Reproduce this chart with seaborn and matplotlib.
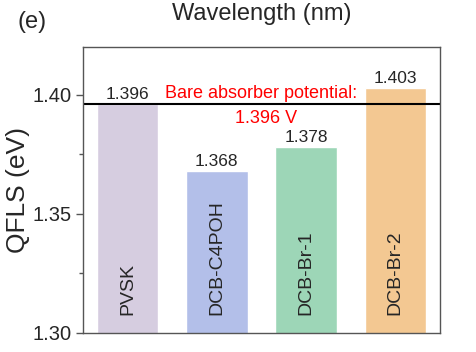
import matplotlib
matplotlib.use('Agg')
import matplotlib.pyplot as plt
import seaborn as sns
import pandas as pd
from matplotlib.ticker import MultipleLocator

samples = ['PVSK', 'DCB-C4POH', 'DCB-Br-1', 'DCB-Br-2']
qfls = [1.396, 1.368, 1.378, 1.403]
colors = ['#d6cde0', '#b3bfe9', '#9dd6b7', '#f3c892']
bare_potential = 1.396

df = pd.DataFrame({'sample': samples, 'qfls': qfls})

sns.set_style('ticks')
plt.rcParams['font.family'] = ['Liberation Sans', 'DejaVu Sans']

fig = plt.figure(figsize=(4.77, 3.52), dpi=100)
ax = fig.add_axes([83 / 477, 1 - 333 / 352, 357 / 477, 286 / 352])

sns.barplot(data=df, x='sample', y='qfls', hue='sample', palette=colors,
            width=0.69, legend=False, ax=ax, saturation=1)

ax.set_ylim(1.30, 1.42)
ax.set_xlim(-0.5, 3.5)
ax.yaxis.set_major_locator(MultipleLocator(0.05))
ax.yaxis.set_minor_locator(MultipleLocator(0.025))
ax.yaxis.set_major_formatter(matplotlib.ticker.FormatStrFormatter('%.2f'))
ax.tick_params(axis='y', which='major', length=5, width=1, labelsize=14.5,
               color='#555555', pad=3)
ax.tick_params(axis='y', which='minor', length=3, width=1, color='#555555')
ax.tick_params(axis='x', length=0, labelbottom=False)
ax.set_xlabel('')
ax.set_ylabel('QFLS (eV)', fontsize=19, labelpad=2)
for sp in ax.spines.values():
    sp.set_visible(True)
    sp.set_color('#555555')
    sp.set_linewidth(1)

ax.axhline(bare_potential, color='black', lw=1.5)

# value labels and rotated names inside the bars
for i, (s, v) in enumerate(zip(samples, qfls)):
    ax.text(i, v + 0.0008, f'{v:.3f}', ha='center', va='bottom', fontsize=12.5)
    ax.text(i, 1.3075, s, rotation=90, ha='center', va='bottom', fontsize=14)

ax.text(1.49, 1.3968, 'Bare absorber potential:', color='red', ha='center',
        va='bottom', fontsize=13)
ax.text(1.55, 1.3935, f'{bare_potential:.3f} V', color='red', ha='center',
        va='top', fontsize=13)

fig.text(262 / 477, 1 - 14 / 352, 'Wavelength (nm)', ha='center', va='center', fontsize=17)
fig.text(32 / 477, 1 - 22 / 352, '(e)', ha='center', va='center', fontsize=17)

fig.savefig('out.png', dpi=100)
